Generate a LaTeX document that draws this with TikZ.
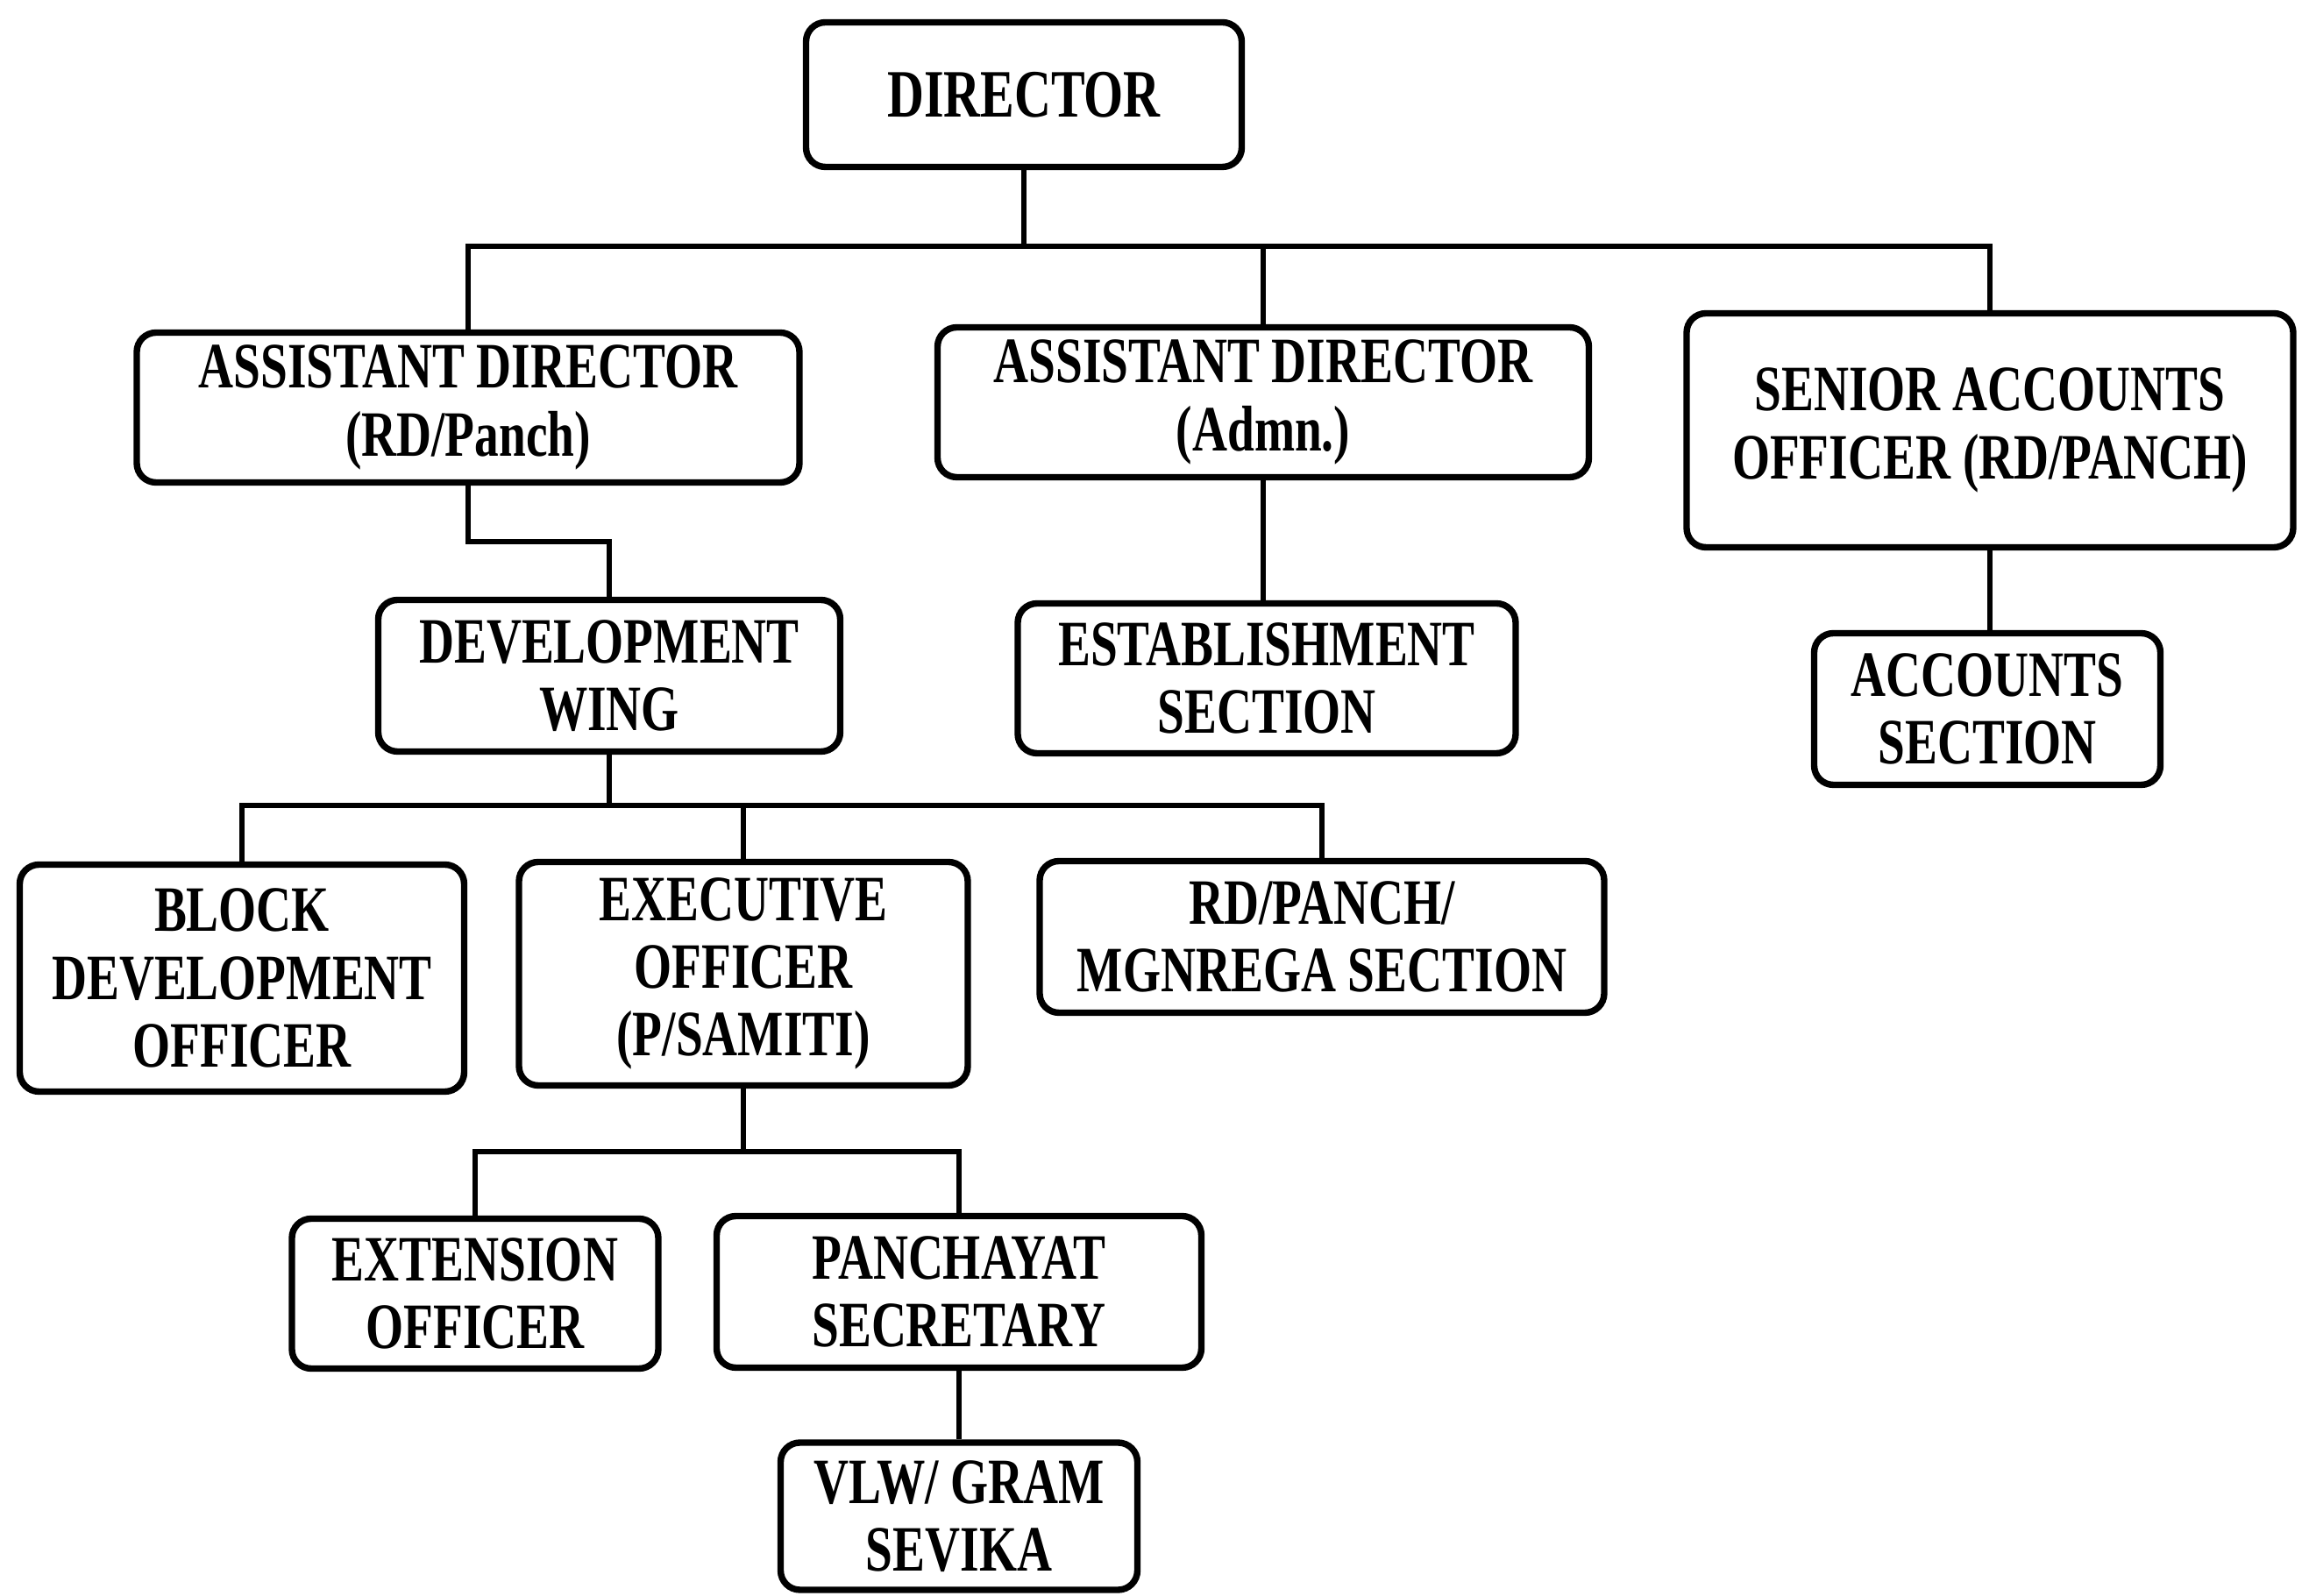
\documentclass[tikz,border=0pt]{standalone}
\usepackage{fontspec}
\setmainfont[FakeStretch=0.75]{Liberation Serif}
\usepackage{tikz}
\usetikzlibrary{calc}
\usetikzlibrary{positioning}

\begin{document}
\begin{tikzpicture}[
  post/.style={draw, rectangle, rounded corners=0.22cm, line width=2.1pt, align=center,
    inner sep=0pt, font=\fontsize{21}{22}\selectfont\bfseries},
  link/.style={line width=1.7pt}
]
\useasboundingbox (0,0) rectangle (26.34,18.21);

\node[post, minimum width=4.97cm, minimum height=1.65cm, font=\fontsize{22}{23}\selectfont\bfseries] (dir) at (11.68,17.13) {DIRECTOR};

\node[post, minimum width=7.56cm, minimum height=1.71cm] (adrd) at (5.34,13.56) {ASSISTANT DIRECTOR\\(RD/Panch)};
\node[post, minimum width=7.43cm, minimum height=1.71cm] (adadm) at (14.41,13.62) {ASSISTANT DIRECTOR\\(Admn.)};
\node[post, minimum width=6.92cm, minimum height=2.67cm] (sao) at (22.70,13.30) {SENIOR ACCOUNTS\\OFFICER (RD/PANCH)};

\node[post, minimum width=5.27cm, minimum height=1.73cm] (devwing) at (6.95,10.50) {DEVELOPMENT\\WING};
\node[post, minimum width=5.68cm, minimum height=1.71cm] (estab) at (14.45,10.47) {ESTABLISHMENT\\SECTION};
\node[post, minimum width=3.95cm, minimum height=1.73cm] (accsec) at (22.67,10.12) {ACCOUNTS\\SECTION};

\node[post, minimum width=5.07cm, minimum height=2.59cm] (bdo) at (2.76,7.05) {BLOCK\\DEVELOPMENT\\OFFICER};
\node[post, minimum width=5.12cm, minimum height=2.55cm] (exec) at (8.48,7.10) {EXECUTIVE\\OFFICER\\(P/SAMITI)};
\node[post, minimum width=6.44cm, minimum height=1.73cm] (mgnrega) at (15.08,7.52) {RD/PANCH/\\MGNREGA SECTION};

\node[post, minimum width=4.18cm, minimum height=1.71cm] (ext) at (5.42,3.45) {EXTENSION\\OFFICER};
\node[post, minimum width=5.53cm, minimum height=1.73cm] (psec) at (10.94,3.47) {PANCHAYAT\\SECRETARY};
\node[post, minimum width=4.07cm, minimum height=1.68cm] (vlw) at (10.94,0.91) {VLW/ GRAM\\SEVIKA};

% bus levels
\coordinate (bustop) at (0,15.40);
\coordinate (busdw) at (0,12.03);
\coordinate (busmid) at (0,9.02);
\coordinate (buslow) at (0,5.07);

\draw[link] (dir.south) -- (dir.south |- bustop);
\draw[link] (adrd.north) -- (adrd.north |- bustop) -- (sao.north |- bustop) -- (sao.north);
\draw[link] (adadm.north) -- (adadm.north |- bustop);

\draw[link] (adrd.south) -- (adrd.south |- busdw) -| (devwing.north);
\draw[link] (adadm.south) -- (adadm.south |- estab.north);
\draw[link] (sao.south) -- (sao.south |- accsec.north);

\draw[link] (devwing.south) -- (devwing.south |- busmid);
\draw[link] (bdo.north) -- (bdo.north |- busmid) -- (mgnrega.north |- busmid) -- (mgnrega.north);
\draw[link] (exec.north) -- (exec.north |- busmid);

\draw[link] (exec.south) -- (exec.south |- buslow);
\draw[link] (ext.north) -- (ext.north |- buslow) -- (psec.north |- buslow) -- (psec.north);
\draw[link] (psec.south) -- (vlw.north);

\end{tikzpicture}
\end{document}
